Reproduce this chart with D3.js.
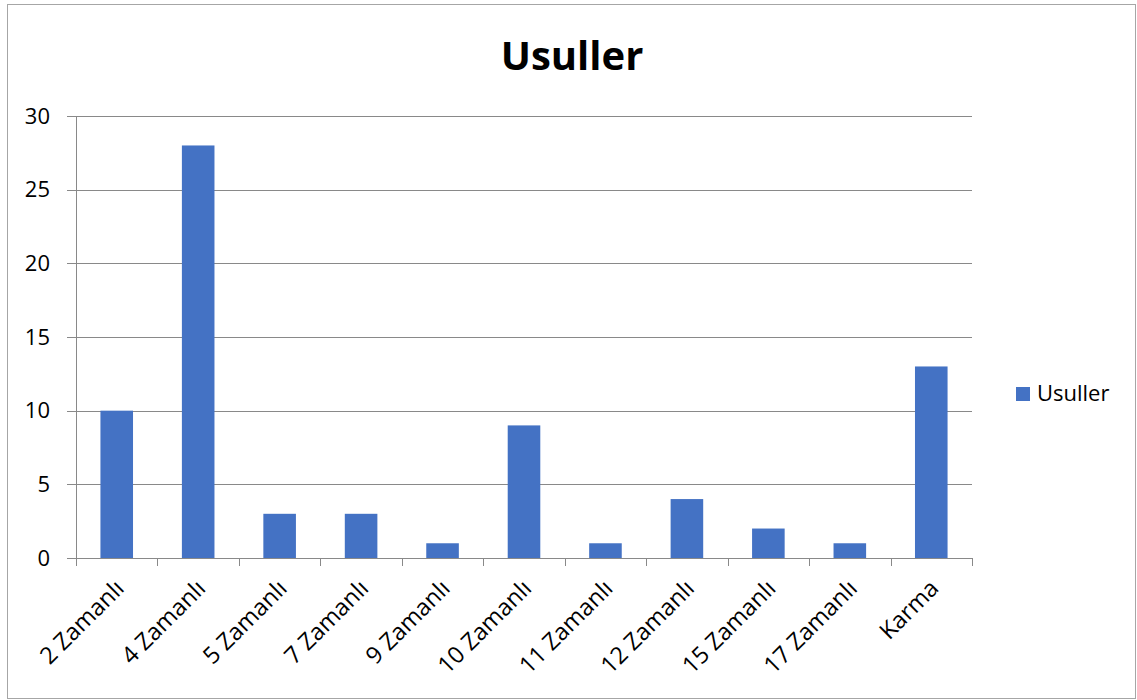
<!DOCTYPE html>
<html>
<head>
<meta charset="utf-8">
<script src="https://cdn.jsdelivr.net/npm/d3@7"></script>
<style>
  body { margin: 0; background: #fff; }
  svg { display: block; font-family: "Open Sans", sans-serif; }
</style>
</head>
<body>
<svg id="chart" width="1137" height="700"></svg>
<script>
const categories = ["2 Zamanlı", "4 Zamanlı", "5 Zamanlı", "7 Zamanlı", "9 Zamanlı", "10 Zamanlı",
    "11 Zamanlı", "12 Zamanlı", "15 Zamanlı", "17 Zamanlı", "Karma"];
const values = [10, 28, 3, 3, 1, 9, 1, 4, 2, 1, 13];
const yTicks = [0, 5, 10, 15, 20, 25, 30];
const seriesName = "Usuller";

const svg = d3.select("#chart");
const plotLeft = 76, plotRight = 972, plotTop = 116, plotBottom = 558;

// outer frame
svg.append("rect")
    .attr("x", 7.5).attr("y", 4.5)
    .attr("width", 1128).attr("height", 694)
    .attr("fill", "#fff")
    .attr("stroke", "#a6a6a6")
    .attr("stroke-width", 1);

const xScale = d3.scaleBand().domain(categories).range([plotLeft, plotRight])
    .paddingInner(0.6).paddingOuter(0.3);
const yScale = d3.scaleLinear().domain([0, 30]).range([plotBottom, plotTop]);

// gridlines
svg.append("g")
    .selectAll("line")
    .data(yTicks)
    .enter().append("line")
    .attr("x1", plotLeft - 9)
    .attr("x2", plotRight)
    .attr("y1", d => Math.round(yScale(d)) + 0.5)
    .attr("y2", d => Math.round(yScale(d)) + 0.5)
    .attr("stroke", "#898989")
    .attr("stroke-width", 1);

// y axis line
svg.append("line")
    .attr("x1", plotLeft + 0.5).attr("x2", plotLeft + 0.5)
    .attr("y1", plotTop).attr("y2", plotBottom)
    .attr("stroke", "#898989");

// y tick labels
svg.append("g")
    .selectAll("text")
    .data(yTicks)
    .enter().append("text")
    .attr("x", 50)
    .attr("y", d => yScale(d))
    .attr("dy", "0.35em")
    .attr("text-anchor", "end")
    .attr("font-size", 22)
    .attr("fill", "#000")
    .text(d => d);

// bars
svg.selectAll(".bar")
    .data(values)
    .enter().append("rect")
    .attr("class", "bar")
    .attr("x", (d, i) => xScale(categories[i]))
    .attr("y", d => yScale(d))
    .attr("width", xScale.bandwidth())
    .attr("height", d => yScale(0) - yScale(d))
    .attr("fill", "#4472C4");

// x axis ticks between categories
const step = xScale.step();
const xTickPos = d3.range(categories.length + 1).map(i => plotLeft + i * step);
svg.append("g")
    .selectAll("line")
    .data(xTickPos)
    .enter().append("line")
    .attr("x1", d => Math.round(d) + 0.5)
    .attr("x2", d => Math.round(d) + 0.5)
    .attr("y1", plotBottom)
    .attr("y2", plotBottom + 8)
    .attr("stroke", "#898989");

// x labels
svg.append("g")
    .selectAll("text")
    .data(categories)
    .enter().append("text")
    .attr("transform", d => `translate(${xScale(d) + xScale.bandwidth() / 2 + 3},${plotBottom + 26}) rotate(-45)`)
    .attr("text-anchor", "end")
    .attr("dy", "0.35em")
    .attr("font-size", 23.5)
    .attr("fill", "#000")
    .text(d => d);

// title
svg.append("text")
    .attr("x", 572)
    .attr("y", 70)
    .attr("text-anchor", "middle")
    .attr("font-size", 40)
    .attr("font-weight", "bold")
    .text(seriesName);

// legend
svg.append("rect")
    .attr("x", 1016).attr("y", 387)
    .attr("width", 14).attr("height", 14)
    .attr("fill", "#4472C4");
svg.append("text")
    .attr("x", 1037)
    .attr("y", 393.5)
    .attr("dy", "0.35em")
    .attr("font-size", 22)
    .text(seriesName);
</script>
</body>
</html>
